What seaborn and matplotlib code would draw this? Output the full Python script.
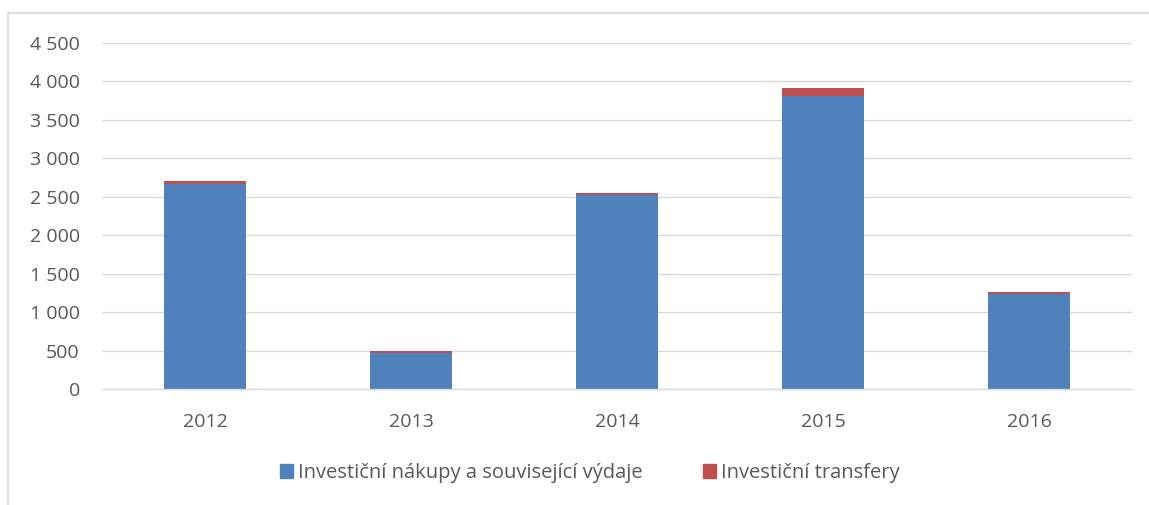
#Importing libraries
import pandas as pd
import matplotlib
matplotlib.use("Agg")
import matplotlib.pyplot as plt
import seaborn as sns
from matplotlib.lines import Line2D
from matplotlib.patches import Patch
from matplotlib.ticker import FuncFormatter, FixedLocator

#Chart data
years = ["2012", "2013", "2014", "2015", "2016"]
purchases = [2670, 462, 2520, 3810, 1238]
transfers = [35, 33, 35, 100, 25]
series_names = ["Investiční nákupy a související výdaje", "Investiční transfery"]

BLUE = "#4F81BD"
RED = "#C0504D"
GRID = "#D9D9D9"
TEXT = "#595959"

df = pd.DataFrame({"year": years, "purchases": purchases, "transfers": transfers})
df["total"] = df["purchases"] + df["transfers"]

sns.set_style("white")
plt.rcParams["font.family"] = ["Open Sans", "DejaVu Sans"]

fig = plt.figure(figsize=(11.49, 5.05), dpi=100)
ax = fig.add_axes([102 / 1149, 116 / 505, 1030 / 1149, 346 / 505])

#Stacked bars: total in red, purchases in blue on top
sns.barplot(data=df, x="year", y="total", color=RED, width=0.4, saturation=1, linewidth=0, ax=ax)
sns.barplot(data=df, x="year", y="purchases", color=BLUE, width=0.4, saturation=1, linewidth=0, ax=ax)

ax.set_xlim(-0.5, 4.5)
ax.set_ylim(0, 4500)
ax.set_yticks(range(0, 4501, 500))
ax.yaxis.set_major_formatter(FuncFormatter(lambda v, p: "{:,}".format(int(v)).replace(",", " ")))
ax.grid(axis="y", color=GRID, linewidth=1)
ax.set_axisbelow(True)
ax.set_xlabel("")
ax.set_ylabel("")

for side in ["top", "right", "left"]:
    ax.spines[side].set_visible(False)
ax.spines["bottom"].set_color(GRID)
ax.spines["bottom"].set_linewidth(1)

ax.tick_params(axis="y", length=0, pad=16, labelsize=14, labelcolor=TEXT)
ax.tick_params(axis="x", which="major", length=0, pad=17, labelsize=14, labelcolor=TEXT)
ax.xaxis.set_minor_locator(FixedLocator([-0.5, 0.5, 1.5, 2.5, 3.5, 4.5]))
ax.tick_params(axis="x", which="minor", length=6, color=GRID, width=1)

#Legend
handles = [Patch(color=BLUE, label=series_names[0]), Patch(color=RED, label=series_names[1])]
fig.legend(handles=handles, loc="center", bbox_to_anchor=(590 / 1149, 1 - 473 / 505), ncol=2,
           frameon=False, fontsize=14.5, labelcolor=TEXT, handlelength=0.65, handleheight=0.65,
           handletextpad=0.25, columnspacing=3.0)

#Outer chart border
fig.add_artist(Line2D([8 / 1149, 8 / 1149], [0, 1 - 13 / 505], color=GRID, linewidth=1.2))
fig.add_artist(Line2D([8 / 1149, 1], [1 - 13 / 505, 1 - 13 / 505], color=GRID, linewidth=1.2))

fig.savefig("out.png", dpi=100, facecolor="white")
